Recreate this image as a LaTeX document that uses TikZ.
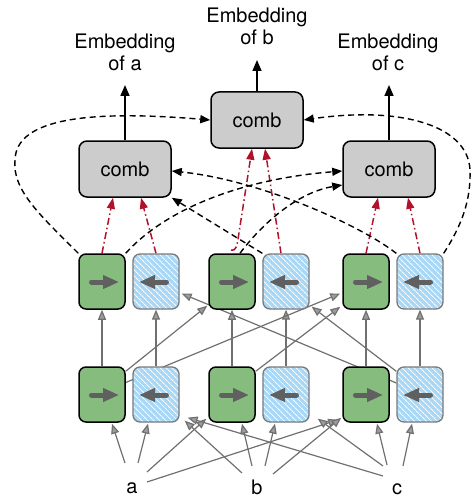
\documentclass[tikz,border=0pt]{standalone}
\usepackage{fontspec}
\setmainfont{TeX Gyre Heros}
\usetikzlibrary{arrows.meta,calc,patterns.meta,backgrounds}
\definecolor{fwd}{HTML}{86BC7E}
\definecolor{bwdfill}{HTML}{A9D8F6}
\definecolor{bwdedge}{HTML}{7A7A7A}
\definecolor{arrgray}{HTML}{707070}
\definecolor{headgray}{HTML}{9C9C9C}
\definecolor{inarrow}{HTML}{606060}
\definecolor{redl}{HTML}{B0122B}
\begin{document}
\begin{tikzpicture}[x=1pt,y=-1pt,
  fwdbox/.style={draw=black, line width=1.5pt, fill=fwd, rounded corners=7pt,
    minimum width=46pt, minimum height=55pt, inner sep=0pt},
  bwdbox/.style={preaction={fill=bwdfill}, pattern={Lines[angle=-45,distance=4pt,line width=0.9pt]},
    pattern color=white, draw=bwdedge, line width=1.3pt, rounded corners=7pt,
    minimum width=46pt, minimum height=55pt, inner sep=0pt},
  combbox/.style={draw=black, line width=1.5pt, fill=black!20, rounded corners=8pt,
    minimum width=92pt, minimum height=56pt, inner sep=0pt, font=\fontsize{20}{22}\selectfont},
  lbl/.style={align=center, inner sep=0pt, font=\fontsize{20}{22}\selectfont},
  tok/.style={inner sep=0pt, font=\fontsize{20}{22}\selectfont, anchor=base},
  inarr/.style={draw=inarrow, line width=5pt, line cap=round,
    -{Triangle[length=16pt,width=13pt]}, fill=inarrow},
  garrow/.style={draw=arrgray, line width=1.2pt, -{Triangle[length=10pt,width=8pt,fill=headgray]}},
  uparrow/.style={draw=black, line width=1.6pt, -{Triangle[length=11pt,width=9pt]}},
  dasharr/.style={draw=black, line width=1.4pt, dash pattern=on 6pt off 4pt,
    -{Triangle[length=10pt,width=8pt]}},
  redarr/.style={draw=redl, line width=1.5pt, dash pattern=on 7pt off 3pt on 1.5pt off 3pt,
    -{Triangle[length=11pt,width=8pt]}}
]
\useasboundingbox (0,0) rectangle (473,500);

% upper layer
\node[fwdbox] (uf1) at (102,281.5) {};
\node[bwdbox] (ub1) at (156,281.5) {};
\node[fwdbox] (uf2) at (232,281.5) {};
\node[bwdbox] (ub2) at (286,281.5) {};
\node[fwdbox] (uf3) at (366,281.5) {};
\node[bwdbox] (ub3) at (420,281.5) {};
% lower layer
\node[fwdbox] (lf1) at (102,394.5) {};
\node[bwdbox] (lb1) at (156,394.5) {};
\node[fwdbox] (lf2) at (232,394.5) {};
\node[bwdbox] (lb2) at (286,394.5) {};
\node[fwdbox] (lf3) at (366,394.5) {};
\node[bwdbox] (lb3) at (420,394.5) {};

% arrows inside cells
\foreach \n in {uf1,uf2,uf3,lf1,lf2,lf3}{
  \draw[inarr] ($(\n.center)+(-10.5,0.5)$) -- ($(\n.center)+(17,0.5)$);
}
\foreach \n in {ub1,ub2,ub3,lb1,lb2,lb3}{
  \draw[inarr] ($(\n.center)+(10.5,0.5)$) -- ($(\n.center)+(-17,0.5)$);
}

% comb nodes
\node[combbox] (ca) at (125,169) {comb};
\node[combbox] (cb) at (257,120) {comb};
\node[combbox] (cc) at (389,169) {comb};

% embedding labels
\node[lbl] (ea) at (125,52.5) {Embedding\\of a};
\node[lbl] (eb) at (257,26.5) {Embedding\\of b};
\node[lbl] (ec) at (388,52.5) {Embedding\\of c};
\coordinate (eatip) at (125,85);
\coordinate (ebtip) at (257,60);
\coordinate (ectip) at (389,85);

% tokens
\node[tok] (ta) at (132,493) {a};
\node[tok] (tb) at (257,494) {b};
\node[tok] (tc) at (397,494) {c};

\draw[uparrow] (ca.north) -- (eatip);
\draw[uparrow] (cb.north) -- (ebtip);
\draw[uparrow] (cc.north) -- (ectip);

\begin{scope}[on background layer]
% vertical lower -> upper
\foreach \i in {1,2,3}{
  \draw[garrow] (lf\i.north) -- (uf\i.south);
  \draw[garrow] (lb\i.north) -- (ub\i.south);
}
% cross connections
\draw[garrow] ($(lf1.north east)+(0,5)$) -- ($(uf2.south west)+(-1,-4)$);
\draw[garrow] ($(lf1.east)+(0,-12)$) -- ($(uf3.west)+(-2,12)$);
\draw[garrow] ($(lf2.north east)+(0,5)$) -- ($(uf3.south west)+(-2,-3)$);
\draw[garrow] ($(lb3.north west)+(0,5)$) -- ($(ub2.south east)+(2,-3)$);
\draw[garrow] ($(lb3.west)+(0,-11.5)$) -- ($(ub1.east)+(2,12)$);

% token inputs
\draw[garrow] ($(ta.base)+(-7,-30)$) -- ($(lf1.south)+(10,1)$);
\draw[garrow] ($(ta.base)+(6,-30)$) -- ($(lb1.south)+(-8,1)$);
\draw[garrow] ($(ta.base)+(15,-21)$) -- ($(lf2.south west)+(-2,-4)$);
\draw[garrow] ($(ta.base)+(15,-11)$) -- ($(lf3.south west)+(-4,-3)$);
\draw[garrow] ($(tb.base)+(-15,-21)$) -- ($(lb1.south east)+(5,-2)$);
\draw[garrow] ($(tb.base)+(-5,-28)$) -- ($(lf2.south)+(10,1)$);
\draw[garrow] ($(tb.base)+(8,-28)$) -- ($(lb2.south)+(-11,1)$);
\draw[garrow] ($(tb.base)+(16,-20)$) -- ($(lf3.south west)+(-1,-5)$);
\draw[garrow] ($(tc.base)+(-14,-18)$) -- ($(lb1.south east)+(8,-5)$);
\draw[garrow] ($(tc.base)+(-14,-28)$) -- ($(lb2.south east)+(8,-4)$);
\draw[garrow] ($(tc.base)+(-10,-29)$) -- ($(lf3.south)+(11,1)$);
\draw[garrow] ($(tc.base)+(6,-28)$) -- ($(lb3.south)+(-8,1)$);

% red dash-dot arrows to comb
\draw[redarr] (uf1.north) -- ($(ca.south)+(-12,0)$);
\draw[redarr] (ub1.north) -- ($(ca.south)+(16,0)$);
\draw[redarr] ($(uf2.north)+(-1,-3)$) .. controls ($(uf2.north)+(4,-2)$) and ($(uf2.north)+(5,-8)$) .. ($(uf2.north)+(6,-14)$) -- ($(cb.south)+(-5,0)$);
\draw[redarr] ($(ub2.north)+(-5,0)$) -- ($(cb.south)+(8,0)$);
\draw[redarr] (uf3.north) -- ($(cc.south)+(-11,0)$);
\draw[redarr] (ub3.north) -- ($(cc.south)+(19,0)$);

% black dashed connections
\draw[dasharr] (uf1.north west) .. controls (40,215) and (12,190) .. (15,160)
  .. controls (16,118) and (90,110) .. (cb.west);
\draw[dasharr] (ub3.north east) .. controls (462,225) and (471,200) .. (470,170)
  .. controls (468,125) and (400,106) .. (cb.east);
\draw[dasharr] (uf1.north east) .. controls (160,215) and (230,180) .. ($(cc.west)+(0,2)$);
\draw[dasharr] ($(uf2.north)+(8,0)$) .. controls (265,220) and (300,192) .. ($(cc.west)+(0,16)$);
\draw[dasharr] (ub3.north west) .. controls (360,225) and (260,180) .. ($(ca.east)+(0,2)$);
\draw[dasharr] (ub2.north west) -- (ca.south east);
\end{scope}
\end{tikzpicture}
\end{document}
